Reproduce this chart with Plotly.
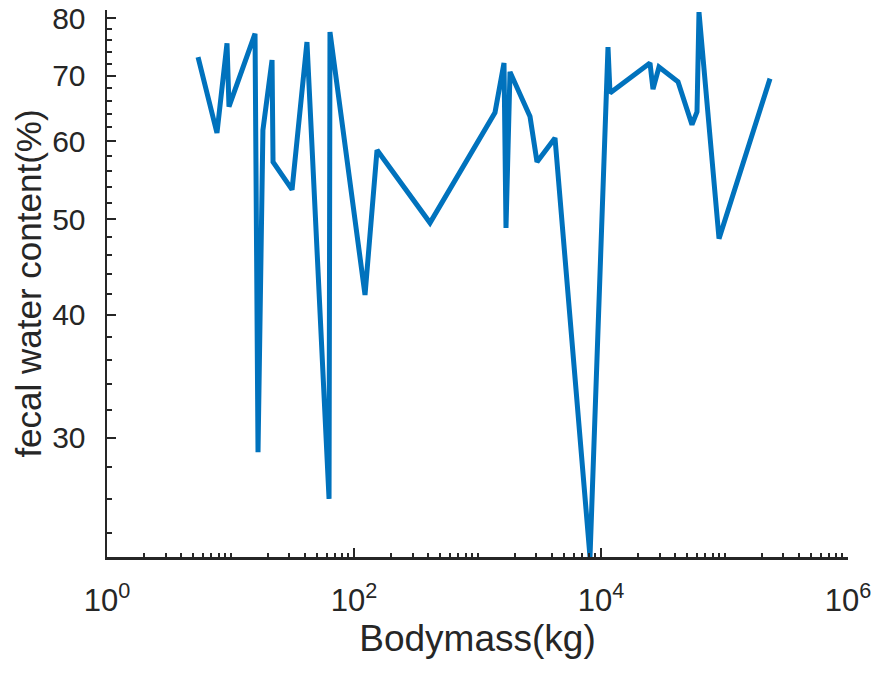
import numpy as np
import plotly.graph_objects as go

# Data (body mass in kg, fecal water content in %)
bodymass = [5.46, 7.77, 9.37, 9.72, 15.8, 16.7, 18.3, 21.7, 22.1, 31.5,
            41.6, 62.8, 63.9, 122.8, 153.6, 412.5, 1386, 1639, 1701, 1833,
            2662, 3032, 4241, 8146, 11394, 11830, 24930, 26370, 29490, 42030,
            54550, 59900, 62150, 90280, 233600]
water = [73.1, 61.2, 75.5, 65.1, 77.2, 29.0, 61.6, 72.6, 57.2, 53.6,
         75.7, 26.0, 77.5, 41.9, 58.8, 49.6, 64.2, 72.1, 49.0, 70.6,
         63.6, 57.2, 60.5, 22.7, 74.8, 67.2, 72.1, 67.8, 71.4, 69.0,
         62.4, 64.3, 81.2, 47.8, 69.5]

x_major = [1, 100, 10000, 1000000]
x_major_text = ["10<sup>0</sup>", "10<sup>2</sup>", "10<sup>4</sup>", "10<sup>6</sup>"]
x_minor = [m * 10 ** k for k in range(6) for m in range(2, 10)] + [10, 1000, 100000]
y_major = [30, 40, 50, 60, 70, 80]
y_minor = [v for v in range(24, 80, 2) if v % 10 != 0]

y_min, y_max = 22.7, 81.6

axis_color = "#262626"
font_family = "Liberation Sans, Arial, Helvetica, sans-serif"

fig = go.Figure()
fig.add_trace(go.Scatter(
    x=bodymass, y=water, mode="lines",
    line=dict(color="#0072BD", width=5),
    hoverinfo="skip", showlegend=False,
))

fig.update_layout(
    width=877, height=679,
    margin=dict(l=107, r=29, t=10, b=122),
    paper_bgcolor="white", plot_bgcolor="white",
    font=dict(family=font_family, color=axis_color),
)

fig.update_xaxes(
    type="log", range=[0, 6], automargin=False,
    tickmode="array", tickvals=x_major, ticktext=x_major_text,
    ticks="inside", ticklen=9, tickwidth=2, tickcolor=axis_color,
    minor=dict(tickmode="array", tickvals=x_minor, ticks="inside",
               ticklen=4.5, tickwidth=2, tickcolor=axis_color, showgrid=False),
    showline=True, linewidth=2.5, linecolor=axis_color, mirror=False,
    showgrid=False, zeroline=False,
    tickfont=dict(size=31, color=axis_color),
    ticklabelstandoff=14,
    title=dict(text="Bodymass(kg)", font=dict(size=37, color=axis_color), standoff=4),
)

fig.update_yaxes(
    type="log", range=[np.log10(y_min), np.log10(y_max)], automargin=False,
    tickmode="array", tickvals=y_major, ticktext=[str(v) for v in y_major],
    ticks="inside", ticklen=9, tickwidth=2, tickcolor=axis_color,
    minor=dict(tickmode="array", tickvals=y_minor, ticks="inside",
               ticklen=4.5, tickwidth=2, tickcolor=axis_color, showgrid=False),
    showline=True, linewidth=2.5, linecolor=axis_color, mirror=False,
    showgrid=False, zeroline=False,
    tickfont=dict(size=30, color=axis_color),
    ticklabelstandoff=13,
    title=dict(text="fecal water content(%)", font=dict(size=35, color=axis_color), standoff=0),
)

fig.write_html(
    "out.html",
    config={"displayModeBar": False, "staticPlot": True},
    post_script="document.body.style.margin='0';document.body.style.overflow='hidden';",
)
